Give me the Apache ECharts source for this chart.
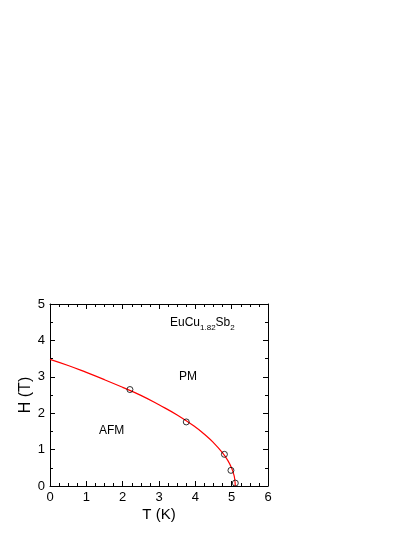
<!DOCTYPE html>
<html>
<head>
<meta charset="utf-8">
<script src="https://cdn.jsdelivr.net/npm/echarts@6/dist/echarts.min.js"></script>
<style>
html,body{margin:0;padding:0;background:#fff;}
#phase_con{width:415px;height:537px;}
</style>
</head>
<body>
<div id="phase_con"></div>
<script>
// measured transition points (T in K, H in T)
const pointT = [2.2, 3.75, 4.8, 4.98, 5.1];
const pointH = [2.65, 1.76, 0.87, 0.43, 0.08];
// red phase boundary
const lineT = [0, 0.5, 1.0, 1.5, 2.0, 2.5, 3.0, 3.5, 4.0, 4.25, 4.5, 4.75, 4.9, 5.0, 5.05, 5.08, 5.1];
const lineH = [3.48, 3.31, 3.12, 2.92, 2.71, 2.49, 2.23, 1.95, 1.62, 1.42, 1.19, 0.91, 0.69, 0.49, 0.34, 0.22, 0];
const xTicks = [0, 1, 2, 3, 4, 5, 6];
const yTicks = [0, 1, 2, 3, 4, 5];

const font = 'Liberation Sans, Arial, sans-serif';

let pointData = [];
for (let i = 0; i < pointT.length; i++) {
    pointData.push([pointT[i], pointH[i]]);
}
let lineData = [];
for (let i = 0; i < lineT.length; i++) {
    lineData.push([lineT[i], lineH[i]]);
}

function axisBase(pos, min, max, minorSplit, showLabel) {
    return {
        type: 'value',
        position: pos,
        min: min,
        max: max,
        interval: 1,
        axisLine: {show: true, onZero: false, lineStyle: {color: '#000', width: 1}},
        axisTick: {show: true, inside: true, length: 5, lineStyle: {color: '#000'}},
        minorTick: {show: true, splitNumber: minorSplit, length: 3, lineStyle: {color: '#000'}},
        splitLine: {show: false},
        axisLabel: {show: showLabel, color: '#000', fontSize: 13, fontFamily: font, margin: 5}
    };
}

let xBottom = axisBase('bottom', xTicks[0], xTicks[xTicks.length - 1], 4, true);
xBottom.name = 'T (K)';
xBottom.nameLocation = 'middle';
xBottom.nameGap = 21;
xBottom.nameTextStyle = {color: '#000', fontSize: 15, fontFamily: font};
let xTop = axisBase('top', xTicks[0], xTicks[xTicks.length - 1], 4, false);

let yLeft = axisBase('left', yTicks[0], yTicks[yTicks.length - 1], 2, true);
yLeft.name = 'H (T)';
yLeft.nameLocation = 'middle';
yLeft.nameGap = 16;
yLeft.nameMoveOverlap = false;
yLeft.nameTextStyle = {color: '#000', fontSize: 16, fontFamily: font};
let yRight = axisBase('right', yTicks[0], yTicks[yTicks.length - 1], 2, false);

let option = {
    animation: false,
    backgroundColor: '#fff',
    grid: {left: 50, right: 147, top: 304, bottom: 51, containLabel: false},
    xAxis: [xBottom, xTop],
    yAxis: [yLeft, yRight],
    graphic: [
        {
            type: 'text', left: 170, top: 317,
            style: {
                text: '{m|EuCu}{s|1.82}{m|Sb}{s|2}',
                rich: {
                    m: {fontSize: 12, fontFamily: font, fill: '#000', verticalAlign: 'bottom'},
                    s: {fontSize: 8, fontFamily: font, fill: '#000', verticalAlign: 'bottom', padding: [0, 0, -3, 0]}
                }
            }
        },
        {type: 'text', left: 179, top: 371, style: {text: 'PM', fontSize: 12, fontFamily: font, fill: '#000'}},
        {type: 'text', left: 99, top: 425, style: {text: 'AFM', fontSize: 12, fontFamily: font, fill: '#000'}}
    ],
    series: [
        {
            name: 'boundary',
            type: 'line',
            data: lineData,
            smooth: true,
            showSymbol: false,
            lineStyle: {color: '#ff0000', width: 1.2},
            z: 2
        },
        {
            name: 'points',
            type: 'scatter',
            data: pointData,
            symbol: 'circle',
            symbolSize: 6,
            itemStyle: {color: 'rgba(255,255,255,0)', borderColor: '#000', borderWidth: 1},
            z: 3
        }
    ]
};

const phaseChart = echarts.init(document.getElementById('phase_con'));
phaseChart.setOption(option);
</script>
</body>
</html>
